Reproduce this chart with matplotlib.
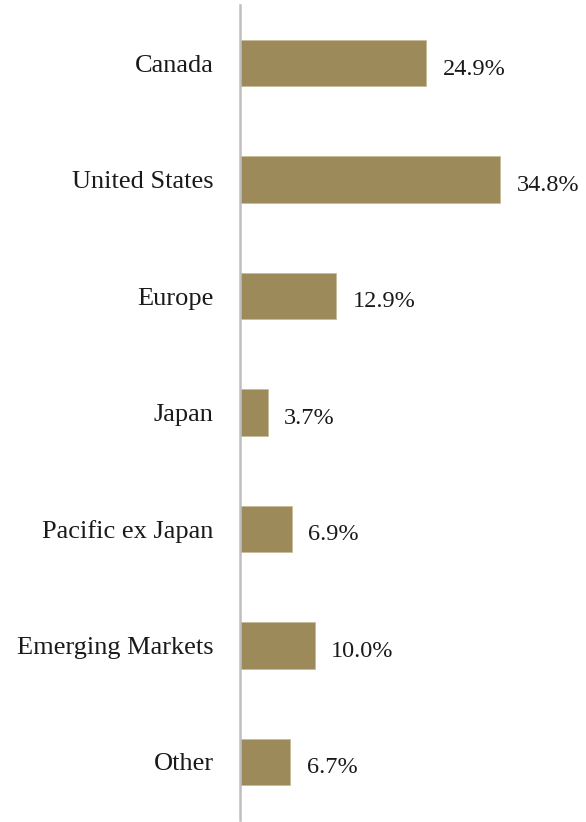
import matplotlib.pyplot as plt

regions = ["Canada", "United States", "Europe", "Japan",
           "Pacific ex Japan", "Emerging Markets", "Other"]
weights = [24.9, 34.8, 12.9, 3.7, 6.9, 10.0, 6.7]

plt.rcParams["font.family"] = ["Liberation Serif", "DejaVu Serif"]

fig = plt.figure(figsize=(5.86, 8.22), dpi=100)
ax = fig.add_axes([240 / 586, 2 / 822, 1 - 240 / 586, 815 / 822])

pos = list(range(len(regions)))
ax.barh(pos, weights, height=0.4, color="#9C8A5A", edgecolor="#C8BC98",
        linewidth=0.6)

# value labels to the right of each bar
for p, w in zip(pos, weights):
    ax.text(w + 2.2, p + 0.05, f"{w:.1f}%", va="center", ha="left",
            fontsize=17.5, color="#1a1a1a")

ax.set_yticks(pos)
ax.set_yticklabels(regions, fontsize=19, color="#1a1a1a")
ax.tick_params(axis="y", length=0, pad=19)
ax.set_xticks([])
ax.set_xlim(0, 46.3)
ax.set_ylim(len(regions) - 0.5, -0.5)

for side in ["top", "right", "bottom"]:
    ax.spines[side].set_visible(False)
ax.spines["left"].set_color("#BFBFBF")
ax.spines["left"].set_linewidth(1.8)

fig.savefig("out.png", dpi=100)
